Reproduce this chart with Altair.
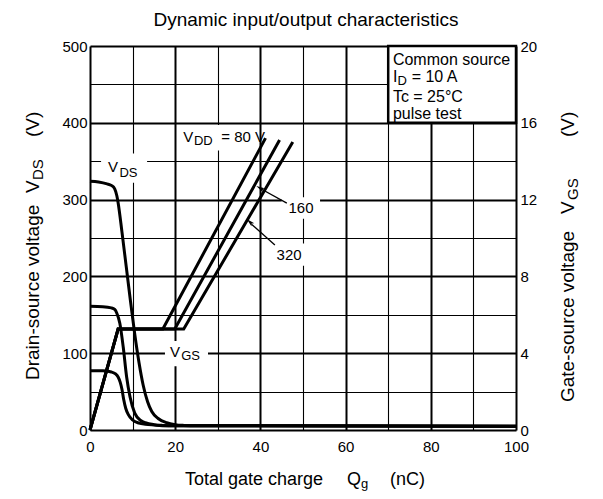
import altair as alt
import pandas as pd

FONT = "Liberation Sans"

# ---- V_DS curves (Q in nC, V_DS in V), one per V_DD ----
vds_q_80 = [0, 3, 5, 6.0, 6.6, 7.1, 7.5, 7.9, 8.4, 9, 10, 11.5, 13, 15, 18, 100]
vds_v_80 = [77, 77, 75.5, 73, 69, 62, 53, 40, 28, 20, 13, 9, 7.5, 6.5, 5.5, 5]
vds_q_160 = [0, 3, 5, 5.8, 6.3, 7.0, 7.8, 8.6, 9.4, 10.5, 12, 13, 15, 17, 20, 100]
vds_v_160 = [161, 160.5, 159, 157, 152, 139, 108, 69, 43, 22, 12, 9.5, 7, 6, 5.5, 5]
vds_q_320 = [0, 2, 4, 5, 5.8, 6.3, 6.6, 7.5, 8.5, 9.5, 10.5, 11.5, 12.5, 13.5, 14.5, 16, 18, 20, 22, 25, 100]
vds_v_320 = [324, 323, 320.5, 318.5, 314, 305, 296, 258, 213, 168, 125, 88, 58, 37, 24, 15, 9.5, 7, 6, 5.5, 5]

# ---- V_GS curves (Q in nC, V_GS in V) ----
vgs_q_80 = [0, 6.6, 17.1, 41.2]
vgs_v_80 = [0, 5.26, 5.26, 15.2]
vgs_q_160 = [0, 6.6, 19.9, 44.5]
vgs_v_160 = [0, 5.26, 5.26, 15.1]
vgs_q_320 = [0, 6.6, 22.0, 47.6]
vgs_v_320 = [0, 5.26, 5.26, 15.0]

def frame(qs, vs, name):
    return pd.DataFrame({"q": qs, "v": vs, "vdd": name, "i": range(len(qs))})

vds = pd.concat([frame(vds_q_80, vds_v_80, "80"), frame(vds_q_160, vds_v_160, "160"),
                 frame(vds_q_320, vds_v_320, "320")])
vgs = pd.concat([frame(vgs_q_80, vgs_v_80, "80"), frame(vgs_q_160, vgs_v_160, "160"),
                 frame(vgs_q_320, vgs_v_320, "320")]).rename(columns={"v": "g"})

# ---- annotations (data units: nC, V_DS volts) ----
boxes = pd.DataFrame({
    "q": [2.6, 17.6, 21.5, 45.0, 42.7],
    "q2": [13.4, 27.7, 39.5, 54.0, 50.9],
    "v": [322, 83, 364, 275, 214],
    "v2": [360, 116, 397, 303, 243],
})
legend_box = pd.DataFrame({"q": [70], "q2": [100], "v": [400], "v2": [500]})

main_txt = pd.DataFrame({
    "t": ["V", "V", "V", "= 80 V", "160", "320"],
    "q": [4.2, 18.75, 21.9, 30.8, 46.6, 43.8],
    "v": [336, 95, 375.5, 375.5, 282.5, 221],
})
sub_txt = pd.DataFrame({
    "t": ["DS", "GS", "DD"],
    "q": [6.9, 21.4, 24.4],
    "v": [330, 91, 370.5],
})
legend_txt = pd.DataFrame({
    "t": ["Common source", "I", "= 10 A", "Tc = 25°C", "pulse test"],
    "q": [71.1, 71.1, 75.5, 71.1, 71.1],
    "v": [475, 453.5, 453.5, 427.5, 405],
})
legend_sub = pd.DataFrame({"t": ["D"], "q": [72.2], "v": [449.5]})

arrow_lines = pd.DataFrame({
    "a": ["160", "160", "320", "320"],
    "q": [46.2, 40.3, 43.4, 37.9],
    "v": [295.5, 313.5, 241, 268],
})
arrow_heads = pd.DataFrame({"q": [39.9, 37.5], "v": [315, 271], "ang": [299, 313]})

one = pd.DataFrame({"t": ["x"]})

# ---- scales & axes ----
xs = alt.Scale(domain=[0, 100], nice=False, zero=False)
ys = alt.Scale(domain=[0, 500], nice=False, zero=False)
gs = alt.Scale(domain=[0, 20], nice=False, zero=False)

x_axis = alt.Axis(
    values=list(range(0, 101, 10)),
    labelExpr="datum.value % 20 === 0 ? datum.label : ''",
    grid=True, gridColor="black", gridOpacity=1,
    gridWidth={"condition": {"test": "datum.value % 20 === 0", "value": 2}, "value": 1.1},
    ticks=False, domain=False, labelFontSize=15, labelFont=FONT, labelColor="black",
    labelPadding=9, title=None, labelFlush=False,
)
y_axis = alt.Axis(
    values=list(range(0, 501, 50)),
    labelExpr="datum.value % 100 === 0 ? datum.label : ''",
    grid=True, gridColor="black", gridOpacity=1,
    gridWidth={"condition": {"test": "datum.value % 100 === 0", "value": 2}, "value": 1.1},
    ticks=False, domain=False, labelFontSize=15, labelFont=FONT, labelColor="black",
    labelPadding=3, title=None, labelFlush=False,
)
g_axis = alt.Axis(
    values=[0, 4, 8, 12, 16, 20], orient="right", grid=False, ticks=False, domain=False,
    labelFontSize=15, labelFont=FONT, labelColor="black", labelPadding=4, title=None,
    labelFlush=False,
)

X = alt.X("q:Q", scale=xs, axis=x_axis)
Y = alt.Y("v:Q", scale=ys, axis=y_axis)

box_layer = alt.Chart(boxes).mark_rect(fill="white", stroke=None).encode(
    x=X, x2="q2", y=Y, y2="v2")
legend_layer = alt.Chart(legend_box).mark_rect(fill="white", stroke="black", strokeWidth=2.5).encode(
    x=X, x2="q2", y=Y, y2="v2")

vds_layer = alt.Chart(vds).mark_line(color="black", strokeWidth=3, interpolate="monotone").encode(
    x=X, y=Y, detail="vdd:N", order="i:Q")

arrow_layer = alt.Chart(arrow_lines).mark_line(color="black", strokeWidth=1.3).encode(
    x=X, y=Y, detail="a:N")
head_layer = alt.Chart(arrow_heads).mark_point(
    shape="M0,-1L0.5,1L0,0.6L-0.5,1Z", filled=True, color="black", size=70, opacity=1
).encode(x=X, y=Y, angle=alt.Angle("ang:Q", scale=None))

def txt(df, size):
    return alt.Chart(df).mark_text(align="left", baseline="alphabetic", fontSize=size,
                                   font=FONT, color="black").encode(x=X, y=Y, text="t:N")

def free_text(s, x, y, size, angle=0, align="left"):
    kw = dict(align=align, baseline="alphabetic", fontSize=size, font=FONT, color="black", text=s)
    if angle:
        kw["angle"] = angle
    return alt.Chart(one).mark_text(**kw).encode(x=alt.value(x), y=alt.value(y))

titles = [
    # chart title
    free_text("Dynamic input/output characteristics", 216, -20, 19, align="center"),
    # left axis title
    free_text("Drain-source voltage", -51, 334, 19, 270),
    free_text("V", -51, 147, 19, 270),
    free_text("DS", -47, 134, 15, 270),
    free_text("(V)", -51, 91, 19, 270),
    # right axis title
    free_text("Gate-source voltage", 484, 356, 19, 270),
    free_text("V", 484, 168, 19, 270),
    free_text("GS", 488, 154, 15, 270),
    free_text("(V)", 484, 91, 19, 270),
    # x axis title
    free_text("Total gate charge", 95, 439, 18),
    free_text("Q", 257, 439, 18),
    free_text("g", 271, 441.5, 13),
    free_text("(nC)", 300, 439, 18),
]

left = alt.layer(
    box_layer, legend_layer, vds_layer, arrow_layer, head_layer,
    txt(main_txt, 15), txt(sub_txt, 13), txt(legend_txt, 16), txt(legend_sub, 13),
    *titles,
)

vgs_layer = alt.Chart(vgs).mark_line(color="black", strokeWidth=3).encode(
    x=X, y=alt.Y("g:Q", scale=gs, axis=g_axis), detail="vdd:N", order="i:Q")

chart = alt.layer(left, vgs_layer).resolve_scale(y="independent").properties(
    width=426, height=384,
    autosize=alt.AutoSizeParams(type="none"),
    padding={"left": 82, "top": 38, "right": 79, "bottom": 61},
).configure_view(stroke="black", strokeWidth=2.5).configure(background="white")

chart.save("out.html", embed_options={"renderer": "svg", "actions": False})
